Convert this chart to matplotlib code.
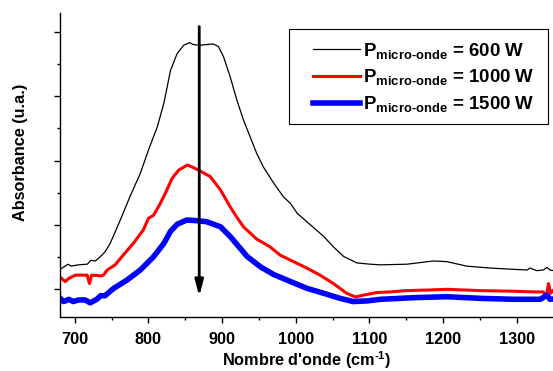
import matplotlib
matplotlib.use("Agg")
import matplotlib.pyplot as plt
from matplotlib.patches import Rectangle
from matplotlib.ticker import MultipleLocator

# Spectra (wavenumber in cm-1, absorbance in arbitrary units)
black_x = [680, 687, 691, 695, 705, 717, 722, 728, 735, 741, 748, 762, 775, 789, 800,
           812, 821, 830, 839, 848, 856, 861, 870, 888, 895, 902, 911, 920, 929, 938,
           947, 956, 970, 983, 993, 1002, 1020, 1038, 1051, 1065, 1083, 1101, 1115,
           1151, 1187, 1205, 1232, 1264, 1296, 1314, 1318, 1327, 1336, 1341, 1345, 1350]
black_y = [0.31, 0.36, 0.39, 0.36, 0.38, 0.39, 0.45, 0.44, 0.51, 0.58, 0.71, 1.08, 1.44,
           1.80, 2.16, 2.52, 2.89, 3.40, 3.66, 3.79, 3.83, 3.80, 3.79, 3.81, 3.77, 3.61,
           3.30, 2.94, 2.63, 2.37, 2.11, 1.90, 1.65, 1.44, 1.33, 1.18, 1.00, 0.82, 0.66,
           0.51, 0.41, 0.39, 0.38, 0.39, 0.44, 0.43, 0.36, 0.33, 0.31, 0.30, 0.33, 0.29,
           0.30, 0.34, 0.30, 0.29]

red_x = [680, 687, 692, 701, 717, 720, 723, 735, 739, 744, 755, 762, 780, 793, 800, 807,
         816, 825, 832, 841, 853, 861, 868, 884, 898, 911, 920, 929, 947, 965, 979, 997,
         1015, 1033, 1051, 1069, 1081, 1092, 1110, 1128, 1151, 1183, 1205, 1250, 1296,
         1323, 1336, 1340, 1343, 1346, 1350]
red_y = [0.19, 0.12, 0.17, 0.22, 0.22, 0.09, 0.22, 0.21, 0.22, 0.30, 0.38, 0.48, 0.72,
         0.92, 1.10, 1.15, 1.33, 1.54, 1.72, 1.85, 1.93, 1.89, 1.85, 1.75, 1.54, 1.28,
         1.12, 0.97, 0.78, 0.66, 0.53, 0.43, 0.33, 0.22, 0.09, -0.06, -0.12, -0.09,
         -0.05, -0.04, -0.02, -0.01, 0.00, -0.02, -0.03, -0.04, -0.04, -0.12, 0.09,
         -0.06, -0.01]

blue_x = [680, 685, 692, 698, 705, 714, 721, 730, 735, 741, 753, 771, 789, 807, 821, 830,
          839, 852, 866, 879, 898, 911, 934, 952, 970, 993, 1015, 1038, 1060, 1078, 1097,
          1115, 1160, 1205, 1250, 1296, 1332, 1341, 1345, 1350]
blue_y = [-0.14, -0.19, -0.155, -0.19, -0.165, -0.165, -0.21, -0.155, -0.10, -0.10, 0.016,
          0.144, 0.30, 0.506, 0.714, 0.90, 1.01, 1.076, 1.065, 1.05, 0.97, 0.82, 0.51,
          0.35, 0.23, 0.12, 0.016, -0.062, -0.14, -0.19, -0.18, -0.155, -0.13, -0.115,
          -0.14, -0.155, -0.155, -0.09, -0.155, -0.15]

labels = ["600 W", "1000 W", "1500 W"]
arrow_x = 869
arrow_top = 4.08
arrow_bottom = -0.11

plt.rcParams["font.family"] = ["Liberation Sans", "DejaVu Sans"]
plt.rcParams["font.weight"] = "bold"
plt.rcParams["mathtext.fontset"] = "custom"
plt.rcParams["mathtext.rm"] = "Liberation Sans:bold"
plt.rcParams["mathtext.bf"] = "Liberation Sans:bold"
plt.rcParams["mathtext.it"] = "Liberation Sans:bold"

fig = plt.figure(figsize=(5.53, 3.71), dpi=100)
ax = fig.add_axes([0.1085, 0.1464, 0.8926, 0.8194])

sub = r"$\mathbf{P}_{\mathbf{micro\text{-}onde}}$"
ax.plot(black_x, black_y, color="black", lw=0.9, label=sub + " = " + labels[0])
ax.plot(red_x, red_y, color="#ff0000", lw=2.2, label=sub + " = " + labels[1])
ax.plot(blue_x, blue_y, color="#0000ff", lw=4.0, label=sub + " = " + labels[2])

ax.annotate("", xy=(arrow_x, arrow_bottom), xytext=(arrow_x, arrow_top),
            arrowprops=dict(arrowstyle="-|>,head_length=0.95,head_width=0.25",
                            color="black", lw=2.0, shrinkA=0, shrinkB=0,
                            mutation_scale=10))

ax.set_xlim(680, 1350)
ax.set_ylim(-0.425, 4.295)
ax.xaxis.set_major_locator(MultipleLocator(100))
ax.xaxis.set_minor_locator(MultipleLocator(50))
ax.yaxis.set_major_locator(MultipleLocator(1))
ax.yaxis.set_minor_locator(MultipleLocator(0.5))
ax.set_yticklabels([])
ax.tick_params(which="major", length=4.3, width=1, direction="out",
               labelsize=11.7, pad=6.5)
ax.tick_params(which="minor", length=2.3, width=1, direction="out")
for lab in ax.get_xticklabels():
    lab.set_fontweight("bold")

for s in ["top", "right"]:
    ax.spines[s].set_visible(False)
for s in ["left", "bottom"]:
    ax.spines[s].set_linewidth(1.0)

ax.set_xlabel(r"Nombre d'onde (cm$^{\text{-}1}$)", fontsize=11.7, fontweight="bold",
              labelpad=2)
ax.set_ylabel("Absorbance (u.a.)", fontsize=11.7, fontweight="bold")
ax.yaxis.set_label_coords(-0.065, 0.54)

# legend frame drawn by hand (the reference has a wide left margin)
ax.add_patch(Rectangle((0.4639, 0.6339), 0.5248, 0.3115, transform=ax.transAxes,
                       facecolor="white", edgecolor="black", lw=0.8, zorder=4))
leg = ax.legend(loc="upper left", bbox_to_anchor=(0.5126, 0.908), frameon=False,
                handlelength=2.55, handletextpad=0.12, labelspacing=0.36,
                borderpad=0, borderaxespad=0,
                prop={"family": "Liberation Sans", "weight": "bold", "size": 13.4})
leg.set_zorder(5)

fig.savefig("out.png", dpi=100)
